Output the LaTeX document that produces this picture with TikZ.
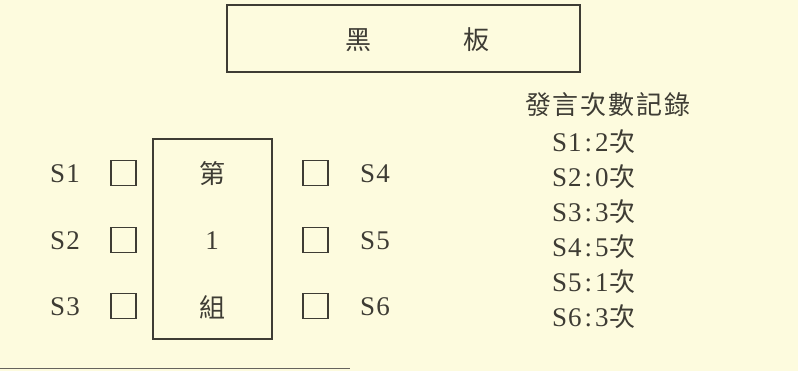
\documentclass[tikz,border=0pt]{standalone}
\usepackage{fontspec}
\setmainfont{Liberation Serif}
\newfontfamily\cjk{Noto Sans CJK TC}
\definecolor{bg}{RGB}{253,251,222}
\definecolor{ink}{RGB}{62,60,52}
\tikzset{
  frame/.style={draw=ink, line width=1.4pt},
  seat/.style={draw=ink, line width=1.2pt, minimum width=25pt, minimum height=25pt, inner sep=0pt},
  lat/.style={text=ink, inner sep=0pt, font=\fontsize{27}{27}\selectfont},
  han/.style={text=ink, inner sep=0pt, font=\cjk\fontsize{26}{26}\selectfont},
  rec/.style={text=ink, inner sep=0pt, anchor=west, font=\fontsize{27}{27}\selectfont}
}
\newcommand{\cnt}[2]{S\hspace{1pt}#1\hspace{3pt}:\hspace{3pt}#2\hspace{1pt}{\cjk\fontsize{26}{26}\selectfont 次}}
\begin{document}
\begin{tikzpicture}[x=1pt,y=-1pt]
\fill[bg] (0,0) rectangle (798,371);
\useasboundingbox (0,0) rectangle (798,371);
% blackboard
\node[frame, minimum width=353pt, minimum height=67pt, inner sep=0pt] (board) at (403.5,38.5) {};
\node[han] (hei) at (358,40) {黑};
\node[han] (ban) at (476,40) {板};
% group table
\node[frame, minimum width=119pt, minimum height=200pt, inner sep=0pt] (group) at (212.5,239) {};
\node[han] (di) at (212,174) {第};
\node[lat] (one) at (212,241) {1};
\node[han] (zu) at (212,307) {組};
% left seats
\node[seat] (b1) at (123.5,173) {};
\node[seat] (b2) at (123.5,240) {};
\node[seat] (b3) at (123.5,306) {};
\node[lat] (s1) at (65,174) {S\hspace{1pt}1};
\node[lat] (s2) at (65,241) {S\hspace{1pt}2};
\node[lat] (s3) at (65,307) {S\hspace{1pt}3};
% right seats
\node[seat] (b4) at (315.5,173) {};
\node[seat] (b5) at (315.5,240) {};
\node[seat] (b6) at (315.5,306) {};
\node[lat] (s4) at (375,174) {S\hspace{1pt}4};
\node[lat] (s5) at (375,241) {S\hspace{1pt}5};
\node[lat] (s6) at (375,307) {S\hspace{1pt}6};
% record
\node[han] (title) at (608,105) {發\hspace{2pt}言\hspace{2pt}次\hspace{2pt}數\hspace{2pt}記\hspace{2pt}錄};
\node[rec] (r1) at (552,142) {\cnt{1}{2}};
\node[rec] (r2) at (552,177) {\cnt{2}{0}};
\node[rec] (r3) at (552,212) {\cnt{3}{3}};
\node[rec] (r4) at (552,247) {\cnt{4}{5}};
\node[rec] (r5) at (552,282) {\cnt{5}{1}};
\node[rec] (r6) at (552,317) {\cnt{6}{3}};
% bottom rule
\coordinate (la) at (0,368);
\coordinate (lb) at (350,368);
\draw[ink!80, line width=1pt] (la) -- (lb);
\end{tikzpicture}
\end{document}
